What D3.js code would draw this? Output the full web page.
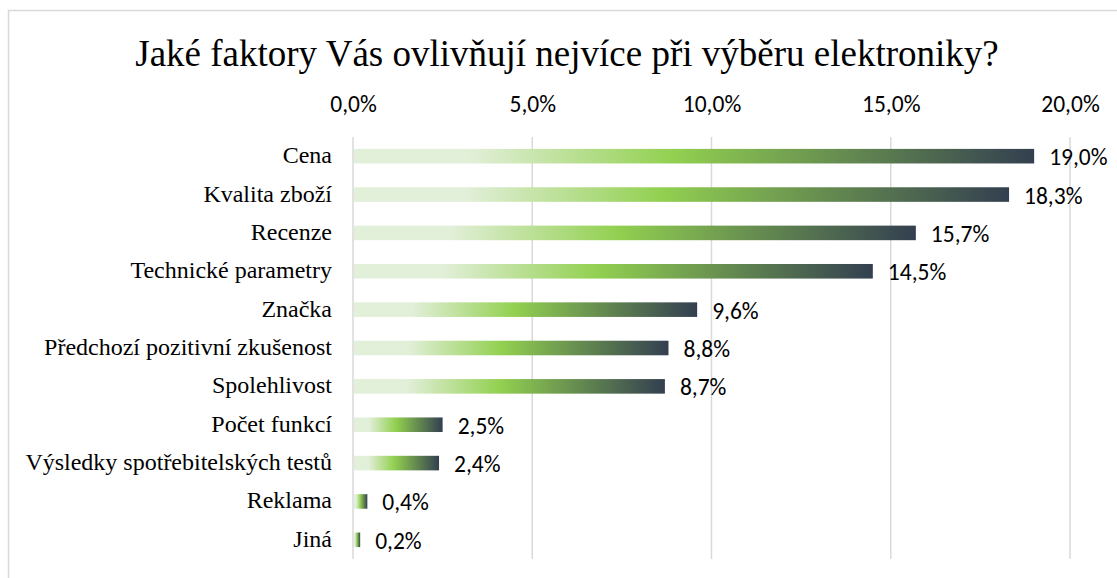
<!DOCTYPE html>
<html><head><meta charset="utf-8">
<script src="https://cdn.jsdelivr.net/npm/d3@7"></script>
<style>body{margin:0;background:#fff}svg{display:block}</style>
</head><body>
<script>
const categories = ["Cena","Kvalita zboží","Recenze","Technické parametry","Značka","Předchozí pozitivní zkušenost","Spolehlivost","Počet funkcí","Výsledky spotřebitelských testů","Reklama","Jiná"];
const values = [19.0,18.3,15.7,14.5,9.6,8.8,8.7,2.5,2.4,0.4,0.2];
const tickValues = [0,5,10,15,20];
const title = "Jaké faktory Vás ovlivňují nejvíce při výběru elektroniky?";

const W=1117,H=578;
const SERIF='"Liberation Serif", "Times New Roman", serif';
const SANS='Carlito, Calibri, Lato, sans-serif';
const svg=d3.select("body").append("svg").attr("width",W).attr("height",H);
const fmt = v => v.toFixed(1).replace(".",",")+"%";

svg.append("path").attr("d",`M8.5,${H} V10.5 H${W}`).attr("fill","none").attr("stroke","#d9d9d9").attr("stroke-width",1.5);

const x=d3.scaleLinear().domain([0,20]).range([353,1070]);
const y=d3.scaleBand().domain(categories).range([137,559]).paddingInner(0.62).paddingOuter(0.31);

const defs=svg.append("defs");
const g=defs.append("linearGradient").attr("id","grad").attr("x1",0).attr("x2",1).attr("y1",0).attr("y2",0);
[[0,"#e2efd9"],[0.17,"#e2efd9"],[0.47,"#92d050"],[1,"#333f50"]].forEach(([o,c])=>g.append("stop").attr("offset",o).attr("stop-color",c));

svg.append("g").selectAll("line").data(tickValues).join("line")
  .attr("x1",d=>x(d)).attr("x2",d=>x(d)).attr("y1",137).attr("y2",559)
  .attr("stroke","#d9d9d9").attr("stroke-width",1.5);

const axis=d3.axisTop(x).tickValues(tickValues).tickFormat(fmt).tickSize(0).tickPadding(0);
const ag=svg.append("g").attr("transform","translate(0,112)").call(axis);
ag.select(".domain").remove();
ag.attr("font-family",null).attr("font-size",null);
ag.selectAll("text").attr("dy",null).style("font-family",SANS).style("font-size","23.5px").attr("fill","#000");

const tt=svg.append("text").attr("x",567).attr("y",66).attr("text-anchor","middle")
  .style("font-family",SERIF).style("font-size","37px").attr("fill","#000").text(title);

const cl=svg.append("g").selectAll("text").data(categories).join("text")
  .attr("x",332).attr("y",d=>y(d)+y.bandwidth()/2+7).attr("text-anchor","end")
  .style("font-family",SERIF).style("font-size","24px").attr("fill","#000").text(d=>d);

svg.append("g").selectAll("rect").data(values).join("rect")
  .attr("x",x(0)+1).attr("y",(d,i)=>y(categories[i]))
  .attr("width",d=>x(d)-x(0)-1).attr("height",y.bandwidth()).attr("fill","url(#grad)");

svg.append("g").selectAll("text").data(values).join("text")
  .attr("x",d=>x(d)+15).attr("y",(d,i)=>y(categories[i])+y.bandwidth()/2+9)
  .style("font-family",SANS).style("font-size","23.5px").attr("fill","#000").text(fmt);
</script>
</body></html>
